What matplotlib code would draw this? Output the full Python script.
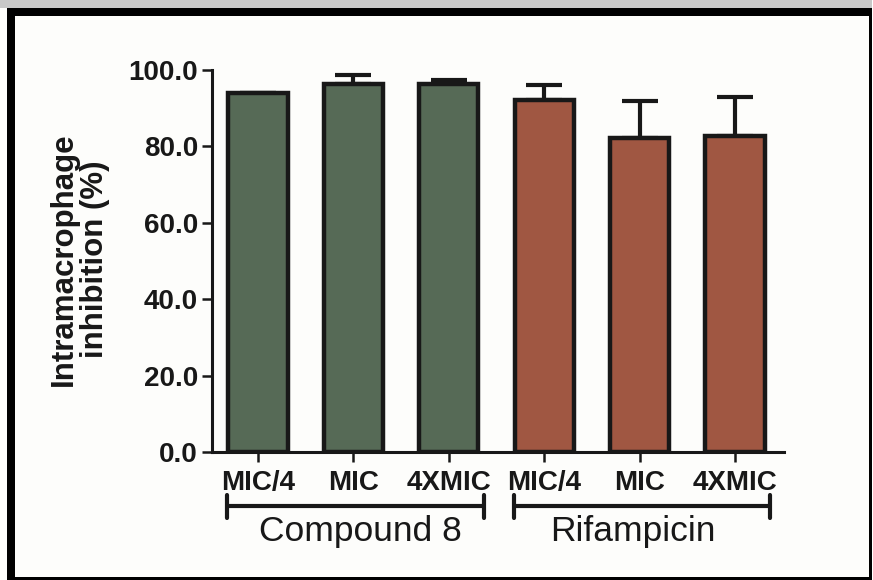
import matplotlib
matplotlib.use("Agg")
import matplotlib.pyplot as plt
from matplotlib.patches import Rectangle
from matplotlib.lines import Line2D
import matplotlib.transforms as mtrans

plt.rcParams['font.family'] = ['Liberation Sans', 'DejaVu Sans']

categories = ["MIC/4", "MIC", "4XMIC", "MIC/4", "MIC", "4XMIC"]
values = [94.0, 96.3, 96.3, 92.2, 82.3, 82.7]
errors = [0.0, 2.4, 1.0, 4.0, 9.5, 10.3]
groups = ["Compound 8", "Rifampicin"]
colors = ["#566a56"] * 3 + ["#a05742"] * 3
yticks = [0, 20, 40, 60, 80, 100]
ytick_labels = ["0.0", "20.0", "40.0", "60.0", "80.0", "100.0"]
ylabel = "Intramacrophage\ninhibition (%)"

W, H = 873, 580
fig = plt.figure(figsize=(W / 100, H / 100), dpi=100)
fig.patch.set_facecolor("#fdfdfb")

def px(x0, y0, x1, y1):
    return (x0 / W, 1 - y1 / H, (x1 - x0) / W, (y1 - y0) / H)

# frame
for (x0, y0, x1, y1, c) in [(0, 0, W, 8, "#c8c8c8"), (7, 8, W, 16, "black"),
                            (7, 8, 15, H, "black"), (7, 577, W, H, "black"),
                            (869, 8, 872, H, "black"), (872, 0, W, H, "#ffffff")]:
    l, b, w, h = px(x0, y0, x1, y1)
    fig.add_artist(Rectangle((l, b), w, h, transform=fig.transFigure,
                             facecolor=c, edgecolor="none", zorder=0))

l, b, w, h = px(212, 70, 784, 452)
ax = fig.add_axes([l, b, w, h])
ax.set_facecolor("none")

x = list(range(len(values)))
ax.bar(x, values, width=0.62, color=colors, edgecolor="#181818", linewidth=3.2, zorder=3)
ax.errorbar(x, values, yerr=[[0] * len(values), errors], fmt="none", ecolor="#181818",
            elinewidth=3.0, capsize=13, capthick=3.0, zorder=2)

ax.set_xlim(-0.482, 5.514)
ax.set_ylim(0, 100)
ax.set_yticks(yticks)
ax.set_yticklabels(ytick_labels, fontsize=20, fontweight="bold")
ax.set_xticks(x)
ax.set_xticklabels(categories, fontsize=20, fontweight="bold")
for s in ["top", "right"]:
    ax.spines[s].set_visible(False)
for s in ["left", "bottom"]:
    ax.spines[s].set_linewidth(2.2)
    ax.spines[s].set_color("#181818")
ax.tick_params(axis="y", length=7, width=1.8, pad=3, colors="#181818")
ax.tick_params(axis="x", length=7.5, width=1.8, pad=5.5, colors="#181818")

fig.text(79 / W, 1 - 259 / H, ylabel, rotation=90, ha="center", va="center",
         fontsize=22.5, fontweight="bold", linespacing=1.05, color="#181818")

trans = mtrans.blended_transform_factory(ax.transData, fig.transFigure)
yb = 1 - 506 / H
yc0, yc1 = 1 - 495 / H, 1 - 518 / H
for (a, bb), name, cx in [((-0.32, 2.37), groups[0], 1.07), ((2.68, 5.37), groups[1], 3.93)]:
    fig.add_artist(Line2D([a, bb], [yb, yb], transform=trans, color="#181818", lw=3.0,
                          solid_capstyle="butt"))
    for xx in (a, bb):
        fig.add_artist(Line2D([xx, xx], [yc0, yc1], transform=trans, color="#181818", lw=3.0,
                              solid_capstyle="round"))
    fig.text(cx, 1 - 541 / H, name, transform=trans, ha="center", va="baseline",
             fontsize=25.5, color="#181818")

fig.savefig("out.png", dpi=100, facecolor=fig.get_facecolor())
